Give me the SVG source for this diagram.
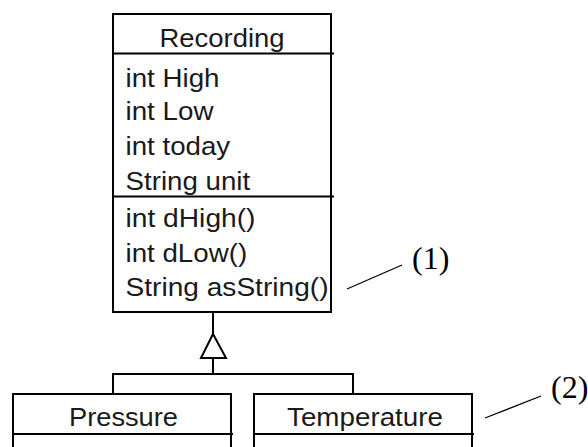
<svg xmlns="http://www.w3.org/2000/svg" width="588" height="447" viewBox="0 0 588 447">
<style>
.box{fill:#fff;stroke:#000;stroke-width:2}
.ln{fill:none;stroke:#000;stroke-width:2}
.thin{fill:none;stroke:#000;stroke-width:1.3}
.t{font-family:"Liberation Sans",Arial,sans-serif;font-size:25px;fill:#1a1a1a}
.c{text-anchor:middle}
.n{font-family:"Liberation Serif","Times New Roman",serif;font-size:32px;fill:#000}
</style>
<rect width="588" height="447" fill="#fff"/>
<g id="connectors">
<path class="ln" d="M213,312V334"/>
<path class="ln" d="M213,334L201,358H226Z" fill="#fff"/>
<path class="ln" d="M213,358V374M113,394V374H353V394"/>
<path class="thin" d="M347,289L402,265"/>
<path class="thin" d="M485,418L541,396"/>
</g>
<g id="recording">
<rect class="box" x="113" y="14" width="218" height="298"/>
<path class="ln" d="M113,53.5H334M113,196.5H334"/>
<text class="t c" x="222" y="47" textLength="125" lengthAdjust="spacingAndGlyphs">Recording</text>
<text class="t" x="125.5" y="86.5" textLength="94" lengthAdjust="spacingAndGlyphs">int High</text>
<text class="t" x="125.5" y="120" textLength="88" lengthAdjust="spacingAndGlyphs">int Low</text>
<text class="t" x="125.5" y="155" textLength="104.7" lengthAdjust="spacingAndGlyphs">int today</text>
<text class="t" x="125.5" y="190" textLength="124.7" lengthAdjust="spacingAndGlyphs">String unit</text>
<text class="t" x="125.5" y="227" textLength="130" lengthAdjust="spacingAndGlyphs">int dHigh()</text>
<text class="t" x="125.5" y="261.5" textLength="121.6" lengthAdjust="spacingAndGlyphs">int dLow()</text>
<text class="t" x="125.5" y="295.5" textLength="203" lengthAdjust="spacingAndGlyphs">String asString()</text>
</g>
<g id="pressure">
<path class="box" d="M13,460V394H231V460"/>
<path class="ln" d="M13,434H233"/>
<text class="t c" x="123.5" y="426" textLength="109" lengthAdjust="spacingAndGlyphs">Pressure</text>
</g>
<g id="temperature">
<path class="box" d="M254,460V394H472V460"/>
<path class="ln" d="M254,434H474"/>
<text class="t c" x="365" y="426" textLength="156" lengthAdjust="spacingAndGlyphs">Temperature</text>
</g>
<g id="labels">
<text class="n" x="412" y="269">(1)</text>
<text class="n" x="551" y="398">(2)</text>
</g>
</svg>
